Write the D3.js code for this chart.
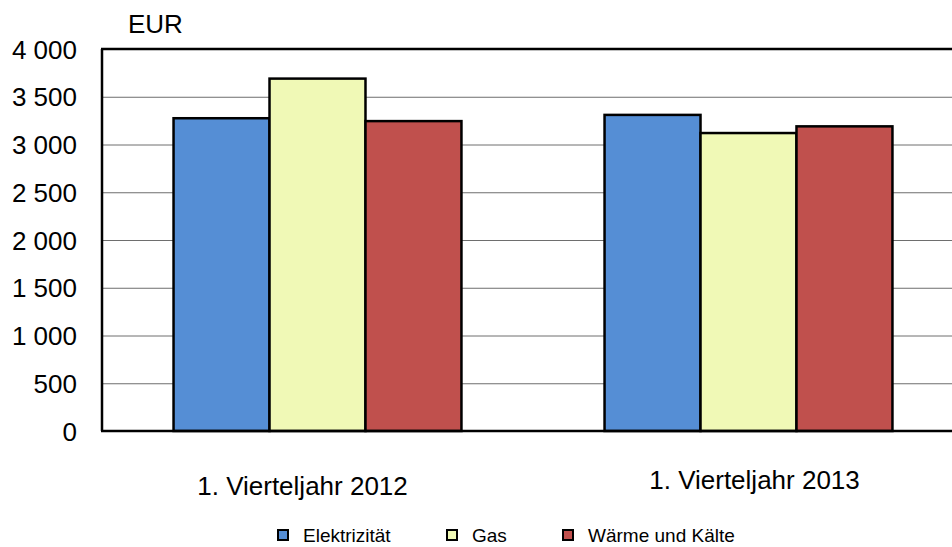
<!DOCTYPE html>
<html>
<head>
<meta charset="utf-8">
<script src="https://cdnjs.cloudflare.com/ajax/libs/d3/7.8.5/d3.min.js"></script>
<style>
  body { margin: 0; background: #fff; }
  svg { display: block; font-family: "Liberation Sans", Arial, sans-serif; }
  .axis-y .domain { display: none; }
  .axis-y .tick line { display: none; }
</style>
</head>
<body>
<div id="chart"></div>
<script>
var categories = ["1. Vierteljahr 2012", "1. Vierteljahr 2013"];
var seriesNames = ["Elektrizität", "Gas", "Wärme und Kälte"];
var elektrizitaet = [3275, 3310];
var gas = [3690, 3120];
var waerme = [3245, 3190];
var yTicks = [0, 500, 1000, 1500, 2000, 2500, 3000, 3500, 4000];
var colors = ["#558ed5", "#f0f9b6", "#c0504d"];

var W = 952, H = 547;
var plot = {left: 102, right: 964, top: 49, bottom: 431};

var svg = d3.select("#chart").append("svg")
  .attr("width", W)
  .attr("height", H);

var x0 = d3.scaleBand()
  .domain(categories)
  .range([plot.left, plot.right])
  .paddingInner(0)
  .paddingOuter(0);
var x1 = d3.scaleBand()
  .domain(seriesNames)
  .range([0, x0.bandwidth() * 0.668])
  .padding(0);
var y = d3.scaleLinear()
  .domain([0, 4000])
  .range([plot.bottom, plot.top]);

// gridlines
svg.append("g").selectAll("line")
  .data(yTicks.filter(function(d) { return d > 0 && d < 4000; }))
  .enter().append("line")
  .attr("x1", plot.left).attr("x2", plot.right)
  .attr("y1", function(d) { return y(d) + 0.5; })
  .attr("y2", function(d) { return y(d) + 0.5; })
  .style("stroke", "#6e6e6e")
  .style("stroke-width", 1);

var yAxis = d3.axisLeft(y)
  .tickValues(yTicks)
  .tickSize(0)
  .tickPadding(25)
  .tickFormat(function(d) { return d3.format(",")(d).replace(",", " "); });

svg.append("g")
  .attr("class", "axis axis-y")
  .attr("transform", "translate(" + plot.left + ",0)")
  .call(yAxis)
  .selectAll("text")
  .style("font-size", "26px")
  .style("fill", "#000")
  .attr("dy", "0.35em");

var data = categories.map(function(c, i) {
  return {cat: c, vals: [elektrizitaet[i], gas[i], waerme[i]]};
});

var groups = svg.append("g").selectAll("g")
  .data(data)
  .enter().append("g")
  .attr("transform", function(d) {
    return "translate(" + (x0(d.cat) + x0.bandwidth() * 0.166) + ",0)";
  });

groups.selectAll("rect")
  .data(function(d) { return d.vals.map(function(v, j) { return {k: seriesNames[j], v: v, j: j}; }); })
  .enter().append("rect")
  .attr("x", function(d) { return x1(d.k); })
  .attr("width", x1.bandwidth())
  .attr("y", function(d) { return y(d.v); })
  .attr("height", function(d) { return y(0) - y(d.v); })
  .style("fill", function(d) { return colors[d.j]; })
  .style("stroke", "#000")
  .style("stroke-width", 2.5);

// plot frame: left, top, bottom
svg.append("line")
  .attr("x1", plot.left).attr("x2", plot.left)
  .attr("y1", plot.top).attr("y2", plot.bottom)
  .style("stroke", "#000").style("stroke-width", 2.5);
svg.append("line")
  .attr("x1", plot.left - 1).attr("x2", plot.right)
  .attr("y1", plot.top).attr("y2", plot.top)
  .style("stroke", "#000").style("stroke-width", 2.5);
svg.append("line")
  .attr("x1", plot.left - 1).attr("x2", plot.right)
  .attr("y1", plot.bottom).attr("y2", plot.bottom)
  .style("stroke", "#000").style("stroke-width", 2.5);

// unit label
svg.append("text")
  .attr("x", 128).attr("y", 33)
  .style("font-size", "26px")
  .text("EUR");

// category labels (slightly offset, as in the original)
var catY = [495, 489];
var catDx = [-15, 6];
svg.append("g").selectAll("text")
  .data(categories)
  .enter().append("text")
  .attr("x", function(d, i) { return x0(d) + x0.bandwidth() / 2 + catDx[i]; })
  .attr("y", function(d, i) { return catY[i]; })
  .attr("text-anchor", "middle")
  .style("font-size", "26px")
  .text(function(d) { return d; });

// legend
var legendX = [278, 447, 563];
var legend = svg.append("g").selectAll("g")
  .data(seriesNames)
  .enter().append("g")
  .attr("transform", function(d, i) { return "translate(" + legendX[i] + ",530)"; });
legend.append("rect")
  .attr("width", 10).attr("height", 10)
  .style("fill", function(d, i) { return colors[i]; })
  .style("stroke", "#000")
  .style("stroke-width", 2);
legend.append("text")
  .attr("x", 25).attr("y", 12)
  .style("font-size", "19px")
  .text(function(d) { return d; });
</script>
</body>
</html>
